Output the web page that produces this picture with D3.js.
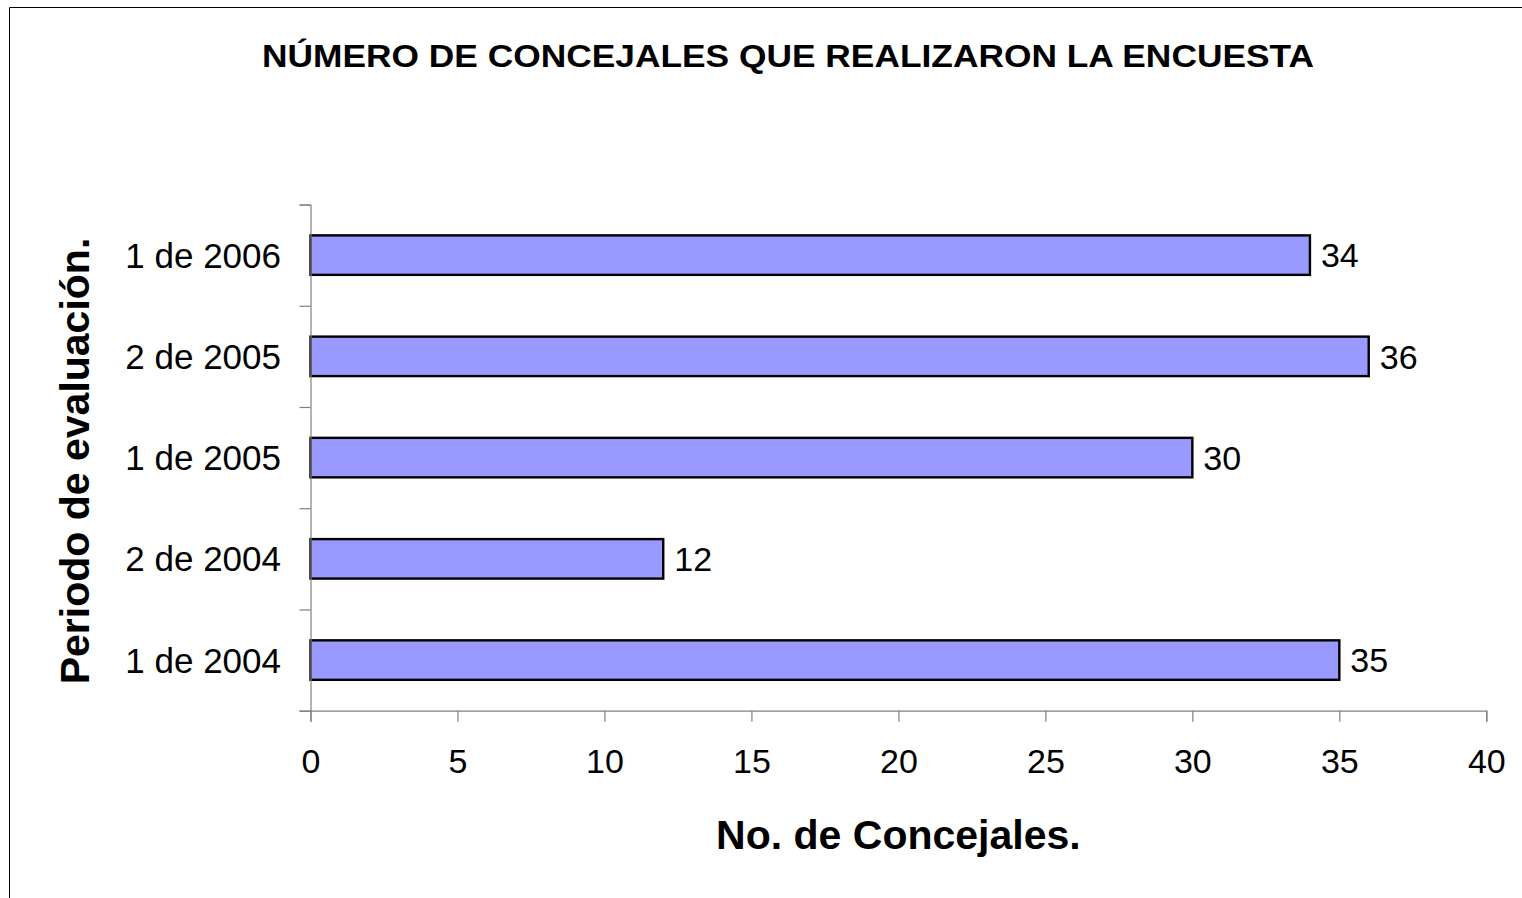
<!DOCTYPE html>
<html>
<head>
<meta charset="utf-8">
<script src="https://cdn.jsdelivr.net/npm/d3@7"></script>
<style>
  body { margin: 0; background: #fff; }
  text { font-family: "Liberation Sans", Arial, sans-serif; fill: #000; }
</style>
</head>
<body>
<svg id="chart" width="1522" height="898"></svg>
<script>
// periods, top to bottom as drawn
var periods = ["1 de 2006", "2 de 2005", "1 de 2005", "2 de 2004", "1 de 2004"];
var concejales = [34, 36, 30, 12, 35];
var xTicks = [0, 5, 10, 15, 20, 25, 30, 35, 40];

var chartTitle = "NÚMERO DE CONCEJALES QUE REALIZARON LA ENCUESTA",
	xLabel = "No. de Concejales.",
	yLabel = "Periodo de evaluación.";

var svg = d3.select("#chart");

var margin = {top: 204.5, left: 310.5, right: 1486.3, bottom: 710.7};

var data = periods.map(function(p, i) { return {period: p, value: concejales[i]}; });

var xScale = d3.scaleLinear().domain([0, 40]).range([margin.left, margin.right]);
var yScale = d3.scaleBand().domain(periods)
	.range([margin.top, margin.bottom])
	.paddingInner(0.61).paddingOuter(0.305);
// boundaries between categories, for the y ticks
var yEdge = d3.scaleLinear().domain([0, periods.length]).range([margin.top, margin.bottom]);

// outer frame (only left/top fall inside the picture)
svg.append("path")
	.attr("d", "M9.5,898V7.5H1522")
	.attr("fill", "none")
	.attr("stroke", "#000")
	.attr("stroke-width", 1);

// title
svg.append("text")
	.attr("x", 788).attr("y", 67)
	.attr("text-anchor", "middle")
	.attr("font-size", 32)
	.attr("font-weight", "bold")
	.attr("textLength", 1052)
	.attr("lengthAdjust", "spacingAndGlyphs")
	.text(chartTitle);

// bars
svg.append("g").selectAll("rect")
	.data(data)
	.enter().append("rect")
	.attr("x", xScale(0))
	.attr("y", function(d) { return yScale(d.period); })
	.attr("width", function(d) { return xScale(d.value) - xScale(0); })
	.attr("height", yScale.bandwidth())
	.attr("fill", "#9999ff")
	.attr("stroke", "#000")
	.attr("stroke-width", 2.4);

// value labels
svg.append("g").selectAll("text")
	.data(data)
	.enter().append("text")
	.attr("x", function(d) { return xScale(d.value) + 11; })
	.attr("y", function(d) { return yScale(d.period) + yScale.bandwidth() / 2; })
	.attr("dy", "0.36em")
	.attr("font-size", 34)
	.text(function(d) { return d.value; });

// x axis
var xAxis = svg.append("g")
	.attr("transform", "translate(0," + margin.bottom + ")")
	.call(d3.axisBottom(xScale).tickValues(xTicks).tickSize(11).tickPadding(27));
xAxis.selectAll("text")
	.attr("font-size", 34)
	.attr("font-family", "Liberation Sans, Arial, sans-serif")
	.attr("fill", "#000");

// y axis: ticks at category edges
svg.append("g")
	.attr("transform", "translate(" + margin.left + ",0)")
	.call(d3.axisLeft(yEdge).tickValues(d3.range(periods.length + 1)).tickSize(11).tickFormat(""));

svg.selectAll(".domain, .tick line")
	.attr("stroke", "#808080")
	.attr("stroke-width", 1.2);

// category labels
svg.append("g").selectAll("text")
	.data(periods)
	.enter().append("text")
	.attr("x", 281)
	.attr("y", function(d) { return yScale(d) + yScale.bandwidth() / 2; })
	.attr("dy", "0.36em")
	.attr("text-anchor", "end")
	.attr("font-size", 35)
	.text(function(d) { return d; });

// axis titles
svg.append("text")
	.attr("x", (margin.left + margin.right) / 2).attr("y", 849)
	.attr("text-anchor", "middle")
	.attr("font-size", 41)
	.attr("font-weight", "bold")
	.text(xLabel);

svg.append("text")
	.attr("transform", "translate(89," + 461 + ") rotate(-90)")
	.attr("text-anchor", "middle")
	.attr("font-size", 41)
	.attr("font-weight", "bold")
	.text(yLabel);
</script>
</body>
</html>
